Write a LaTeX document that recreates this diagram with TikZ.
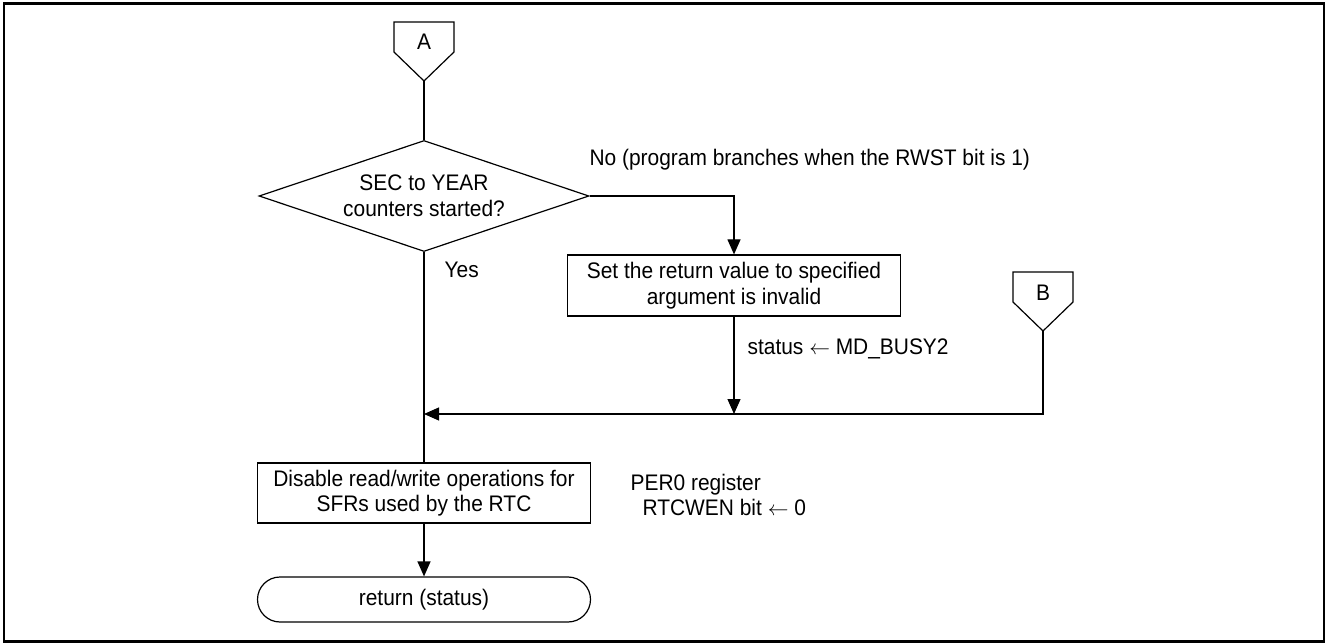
\documentclass[tikz,border=0pt]{standalone}
\usepackage{fontspec}
\setmainfont{Liberation Sans}[FakeStretch=0.93]
\usetikzlibrary{arrows.meta,shapes.geometric}
\begin{document}
\begin{tikzpicture}[x=1pt,y=-1pt, line width=1.2pt,
  every node/.style={font=\fontsize{22.5}{25.5}\selectfont, inner sep=0pt},
  proc/.style={draw, rectangle, minimum width=333pt, minimum height=61pt, align=center},
  term/.style={draw, rectangle, rounded corners=22.5pt, minimum width=333pt, minimum height=45pt},
  dec/.style={draw, diamond, minimum width=330pt, minimum height=111pt},
  lbl/.style={anchor=west, align=left},
  arr/.style={-{Triangle[length=15pt,width=13pt]}}
]
\useasboundingbox (0,0) rectangle (1328,644);
% outer frame
\draw[line width=2.5pt] (4,3.5) rectangle (1324,641.5);

% off-page connector A
\draw (394,22) -- (454,22) -- (454,52) -- (424,81) -- (394,52) -- cycle;
\node (A) at (424,42) {A};
\coordinate (Atip) at (424,81);

% decision
\node[dec] (D) at (424,196) {};
\node[align=center] (Dt) at (D) {SEC to YEAR\\counters started?};

% process boxes
\node[proc] (S) at (734,285.5) {Set the return value to specified\\argument is invalid};
\node[proc, minimum height=60pt] (E) at (424,493) {Disable read/write operations for\\SFRs used by the RTC};
\node[term] (T) at (424,599.5) {return (status)};

% off-page connector B
\draw (1013,272) -- (1073,272) -- (1073,302) -- (1043,331) -- (1013,302) -- cycle;
\node (B) at (1043,293) {B};
\coordinate (Btip) at (1043,331);

% junction points
\coordinate (J) at (424,414);
\coordinate (Js) at (734,414);
\coordinate (Jb) at (1043,414);

% connectors
\draw (Atip) -- (D.north);
\draw[arr] (D.east) -| (S.north);
\draw[arr] (S.south) -- (Js);
\draw[arr] (Btip) -- (Jb) -- (J);
\draw (D.south) -- (E.north);
\draw[arr] (E.south) -- (T.north);

% labels
\node[lbl] (no) at (589,160) {No (program branches when the RWST bit is 1)};
\node[lbl] (yes) at (444,270) {Yes};
\node[lbl] (st) at (747,349) {status $\leftarrow$ MD\_BUSY2};
\node[lbl] (per) at (630,495) {PER0 register\\\hspace{12pt}RTCWEN bit $\leftarrow$ 0};
\end{tikzpicture}
\end{document}
